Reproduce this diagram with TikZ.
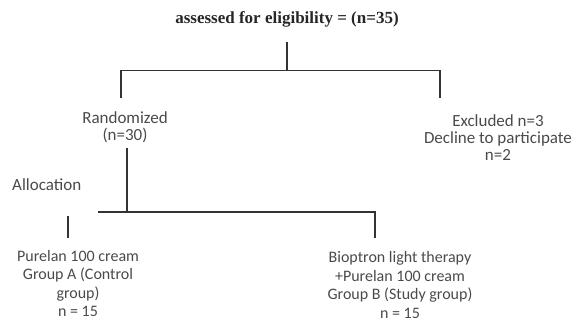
\documentclass[tikz,border=0pt]{standalone}
\usepackage{fontspec}
\setmainfont{Liberation Serif}
\newfontfamily\carl{Carlito}
\definecolor{txtgray}{HTML}{4A4A4A}
\definecolor{linegray}{HTML}{333333}
\begin{document}
\begin{tikzpicture}[x=1pt,y=-1pt,
  conn/.style={draw=linegray,line width=1.4pt},
  lbl/.style={inner sep=0pt,align=center,text=txtgray,font=\carl\fontsize{17}{17}\selectfont},
  grp/.style={inner sep=0pt,align=center,text=txtgray,font=\carl\fontsize{16}{18.5}\selectfont}]
\useasboundingbox (0,0) rectangle (576,321);
\node[inner sep=0pt,font=\bfseries\fontsize{17}{17}\selectfont,text=black!85] (title) at (287,19) {assessed for eligibility = (n=35)};
\coordinate (t1) at (287,42);
\coordinate (hm) at (287,70.5);
\coordinate (hl) at (121,70.5);
\coordinate (hr) at (440,70.5);
\coordinate (vl) at (121,98);
\coordinate (vr) at (440,98);
\draw[conn] (t1) -- (hm);
\draw[conn] (vl) -- (hl) -- (hr) -- (vr);
\node[lbl] (rand) at (125,127) {Randomized\\(n=30)};
\node[lbl] (excl) at (498,138) {Excluded n=3\\Decline to participate\\n=2};
\node[lbl,anchor=west] (alloc) at (12,185) {Allocation};
\coordinate (r1) at (127,148);
\coordinate (r2) at (127,212);
\coordinate (al) at (98,212);
\coordinate (ar) at (375,212);
\coordinate (ab) at (375,238);
\draw[conn] (r1) -- (r2);
\draw[conn] (al) -- (ar) -- (ab);
\coordinate (s1) at (68,216);
\coordinate (s2) at (68,238);
\draw[conn] (s1) -- (s2);
\node[grp] (ga) at (78,283.5) {Purelan 100 cream\\Group A (Control\\group)\\n = 15};
\node[grp] (gb) at (400,285) {Bioptron light therapy\\+Purelan 100 cream\\Group B (Study group)\\n = 15};
\end{tikzpicture}
\end{document}
